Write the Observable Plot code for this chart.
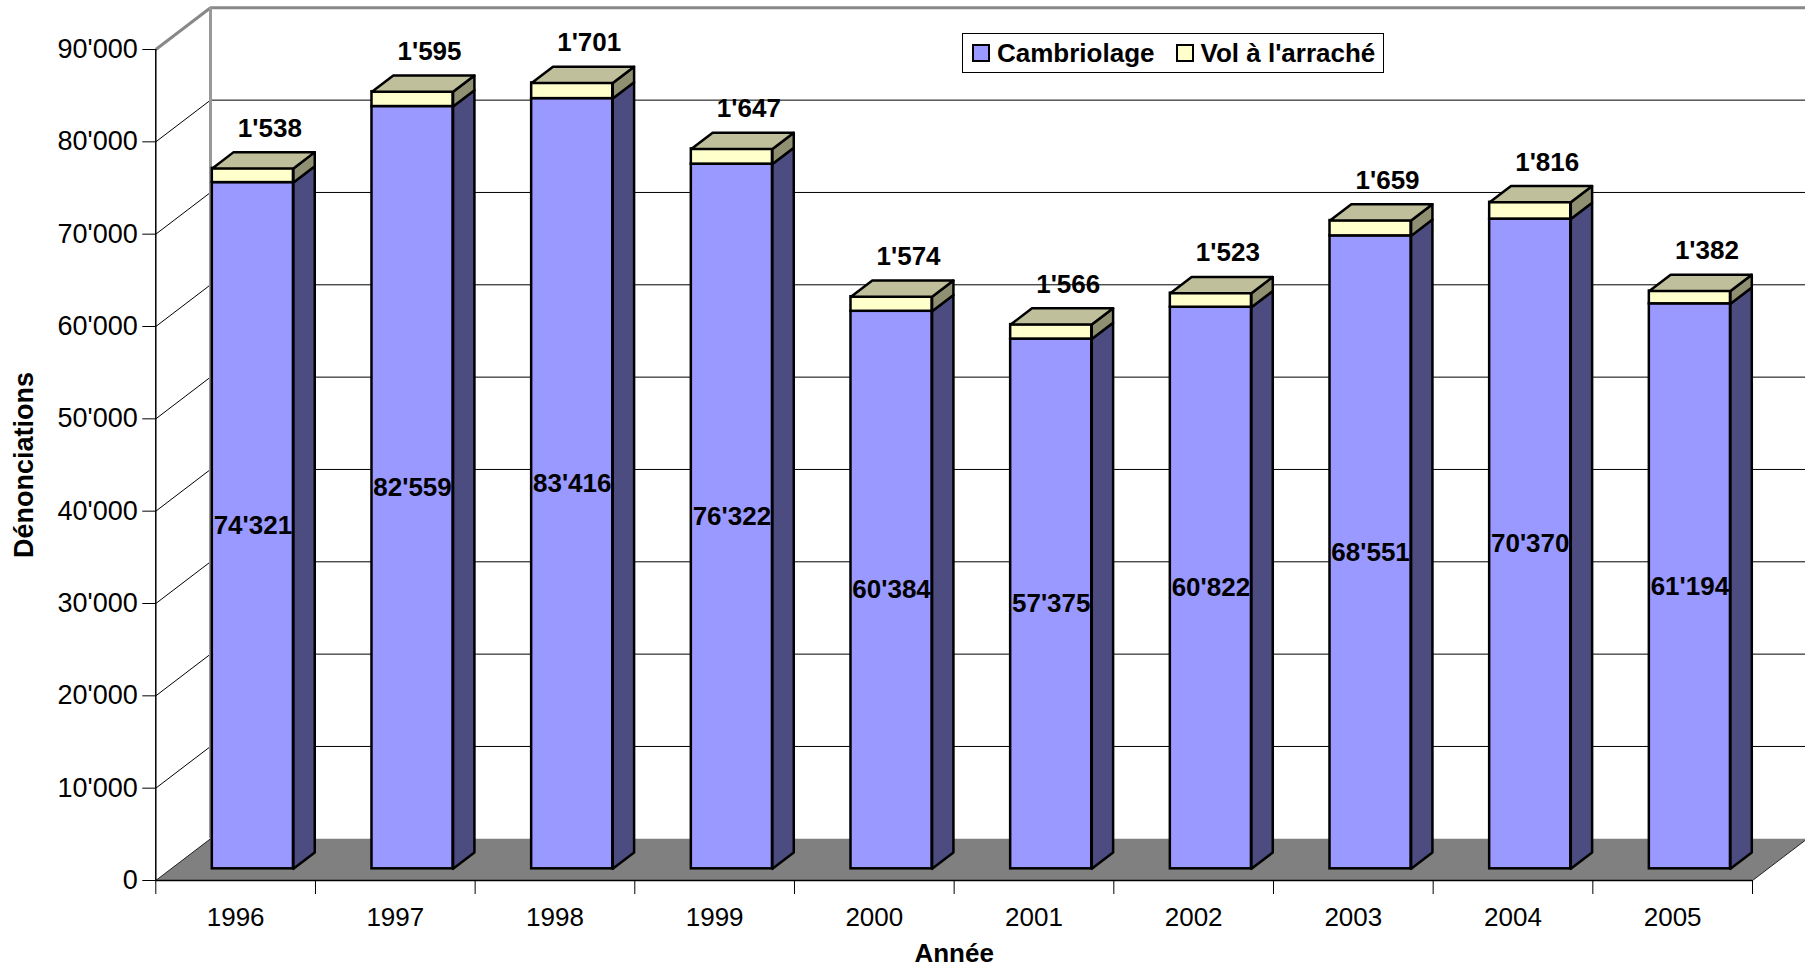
<!DOCTYPE html>
<html>
<head>
<meta charset="utf-8">
<script src="https://cdn.jsdelivr.net/npm/d3@7"></script>
<script src="https://cdn.jsdelivr.net/npm/@observablehq/plot@0.6"></script>
<style>
  html, body { margin: 0; padding: 0; background: #fff; overflow: hidden; }
  #wrap { position: relative; width: 1805px; height: 970px; font-family: "Liberation Sans", Arial, sans-serif; }
  #legend { position: absolute; left: 962px; top: 33px; width: 420px; height: 38px; border: 1.5px solid #000; background: #fff;
            display: flex; align-items: center; font-weight: bold; font-size: 26px; color: #000; box-sizing: content-box; white-space: nowrap; }
  #legend .sw { flex: none; width: 14px; height: 14px; border: 2px solid #000; margin-left: 9px; margin-right: 7px; }
  #legend .lab { margin-right: 12px; }
</style>
</head>
<body>
<div id="wrap">
  <div id="chart"></div>
  <div id="legend">
    <div class="sw" style="background:#9999FF"></div><span class="lab">Cambriolage</span>
    <div class="sw" style="background:#FFFFCC"></div><span class="lab">Vol à l'arraché</span>
  </div>
</div>
<script>
// ---- data ----
const years = ["1996", "1997", "1998", "1999", "2000", "2001", "2002", "2003", "2004", "2005"];
const cambriolage = [74321, 82559, 83416, 76322, 60384, 57375, 60822, 68551, 70370, 61194];
const volArrache = [1538, 1595, 1701, 1647, 1574, 1566, 1523, 1659, 1816, 1382];
const yTicks = [0, 10000, 20000, 30000, 40000, 50000, 60000, 70000, 80000, 90000];
const seriesNames = ["Cambriolage", "Vol à l'arraché"];

// ---- styling / 3D geometry constants ----
const W = 1805, H = 970;
const mL = 155.3, mR = 53, mT = 49, mB = 90;
const n = years.length;
const pxPerX = (W - mL - mR) / n;            // px per category
const pxPerY = (H - mT - mB) / 90000;        // px per unit
const DX = 54.7 / pxPerX;                    // full depth in x units
const DY = 41.7 / pxPerY;                    // full depth in y units
const f0 = 0.28, f1 = 0.67;                  // bar depth (front/back fraction)
const bl = 0.258, br = 0.766;                // bar left/right within category
const colBlue = "#9999FF", colBlueSide = "#4C4C80";
const colYel = "#FFFFCC", colYelSide = "#8F8F72", colYelTop = "#BFBF9B";
const fmt = d3.formatLocale({decimal: ".", thousands: "'", grouping: [3], currency: ["", ""]}).format(",d");

// ---- build table ----
const rows = years.map((y, i) => ({year: y, i, c: cambriolage[i], v: volArrache[i], t: cambriolage[i] + volArrache[i]}));

function poly(id, pts) {
  const out = pts.map(([x, y]) => ({id, x, y}));
  out.push({...out[0]});
  return out;
}
const sideBlue = [], sideYel = [], topYel = [];
rows.forEach(r => {
  const xr = r.i + br, xl = r.i + bl;
  sideBlue.push(...poly("b" + r.i, [[xr + f0*DX, 0 + f0*DY], [xr + f1*DX, 0 + f1*DY], [xr + f1*DX, r.c + f1*DY], [xr + f0*DX, r.c + f0*DY]]));
  sideYel.push(...poly("y" + r.i, [[xr + f0*DX, r.c + f0*DY], [xr + f1*DX, r.c + f1*DY], [xr + f1*DX, r.t + f1*DY], [xr + f0*DX, r.t + f0*DY]]));
  topYel.push(...poly("t" + r.i, [[xl + f0*DX, r.t + f0*DY], [xr + f0*DX, r.t + f0*DY], [xr + f1*DX, r.t + f1*DY], [xl + f1*DX, r.t + f1*DY]]));
});
const floor = poly("floor", [[0, 0], [n, 0], [n + DX, DY], [DX, DY]]);
const innerTicks = yTicks.filter(t => t > 0 && t < 90000);
const topTick = yTicks[yTicks.length - 1];

const chart = Plot.plot({
  width: W, height: H,
  marginLeft: mL, marginRight: mR, marginTop: mT, marginBottom: mB,
  x: {domain: [0, n], axis: null},
  y: {domain: [0, topTick], axis: null},
  style: {fontFamily: "'Liberation Sans', Arial, sans-serif", fontSize: "26px", color: "#000", background: "#fff", overflow: "visible"},
  marks: [
    // back wall gridlines
    Plot.ruleY(innerTicks, {y: d => d + DY, x1: DX, x2: n + DX, stroke: "#000", strokeWidth: 1}),
    // left wall diagonals
    Plot.link(innerTicks, {x1: 0, y1: d => d, x2: DX, y2: d => d + DY, stroke: "#000", strokeWidth: 1}),
    // wall borders (gray)
    Plot.link([topTick], {x1: 0, y1: d => d, x2: DX, y2: d => d + DY, stroke: "#888", strokeWidth: 3}),
    Plot.ruleY([topTick], {y: d => d + DY, x1: DX, x2: n + DX, stroke: "#888", strokeWidth: 3}),
    Plot.ruleX([DX], {x: d => d, y1: DY, y2: topTick + DY, stroke: "#999", strokeWidth: 3}),
    // floor
    Plot.line(floor, {x: "x", y: "y", z: "id", fill: "#808080", stroke: "none"}),
    Plot.link([0, n], {x1: d => d, y1: 0, x2: d => d + DX, y2: DY, stroke: "#222", strokeWidth: 1}),
    // y axis line & ticks
    Plot.ruleX([0], {y1: 0, y2: topTick, stroke: "#000", strokeWidth: 1.5}),
    Plot.axisY({ticks: yTicks, tickSize: 13, tickPadding: 5, tickFormat: fmt, fontSize: 27, label: null, stroke: "#000"}),
    // x axis line & ticks
    Plot.ruleY([0], {x1: 0, x2: n, stroke: "#000", strokeWidth: 1.5}),
    Plot.axisX({ticks: d3.range(n + 1), tickSize: 14, tickFormat: () => "", label: null, stroke: "#000"}),
    Plot.text(rows, {x: d => d.i + 0.5, y: 0, text: "year", dy: 37, fontSize: 26, fill: "#000", lineAnchor: "middle"}),
    // bars: front faces
    Plot.rect(rows, {x1: d => d.i + bl + f0*DX, x2: d => d.i + br + f0*DX, y1: f0*DY, y2: d => d.c + f0*DY, fill: colBlue, stroke: "#000", strokeWidth: 2.5}),
    Plot.rect(rows, {x1: d => d.i + bl + f0*DX, x2: d => d.i + br + f0*DX, y1: d => d.c + f0*DY, y2: d => d.t + f0*DY, fill: colYel, stroke: "#000", strokeWidth: 2.5}),
    // side & top faces
    Plot.line(sideBlue, {x: "x", y: "y", z: "id", fill: colBlueSide, stroke: "#000", strokeWidth: 2.5, strokeLinejoin: "round"}),
    Plot.line(sideYel, {x: "x", y: "y", z: "id", fill: colYelSide, stroke: "#000", strokeWidth: 2.5, strokeLinejoin: "round"}),
    Plot.line(topYel, {x: "x", y: "y", z: "id", fill: colYelTop, stroke: "#000", strokeWidth: 2.5, strokeLinejoin: "round"}),
    // data labels
    Plot.text(rows, {x: d => d.i + (bl + br) / 2 + f0*DX, y: d => d.c / 2 + f0*DY, text: d => fmt(d.c), fontSize: 26, fontWeight: "bold", fill: "#000", lineAnchor: "middle"}),
    Plot.text(rows, {x: d => d.i + (bl + br) / 2 + f0*DX, y: d => d.t + f0*DY, text: d => fmt(d.v), dx: 17, dy: -40, fontSize: 26, fontWeight: "bold", fill: "#000", lineAnchor: "middle"}),
    // axis titles
    Plot.text(["Dénonciations"], {frameAnchor: "left", textAnchor: "middle", rotate: -90, dx: -131, fontSize: 27, fontWeight: "bold", fill: "#000", lineAnchor: "middle"}),
    Plot.text(["Année"], {frameAnchor: "bottom", textAnchor: "middle", dy: 73, fontSize: 26, fontWeight: "bold", fill: "#000", lineAnchor: "middle"})
  ]
});
document.getElementById("chart").appendChild(chart);
</script>
</body>
</html>
